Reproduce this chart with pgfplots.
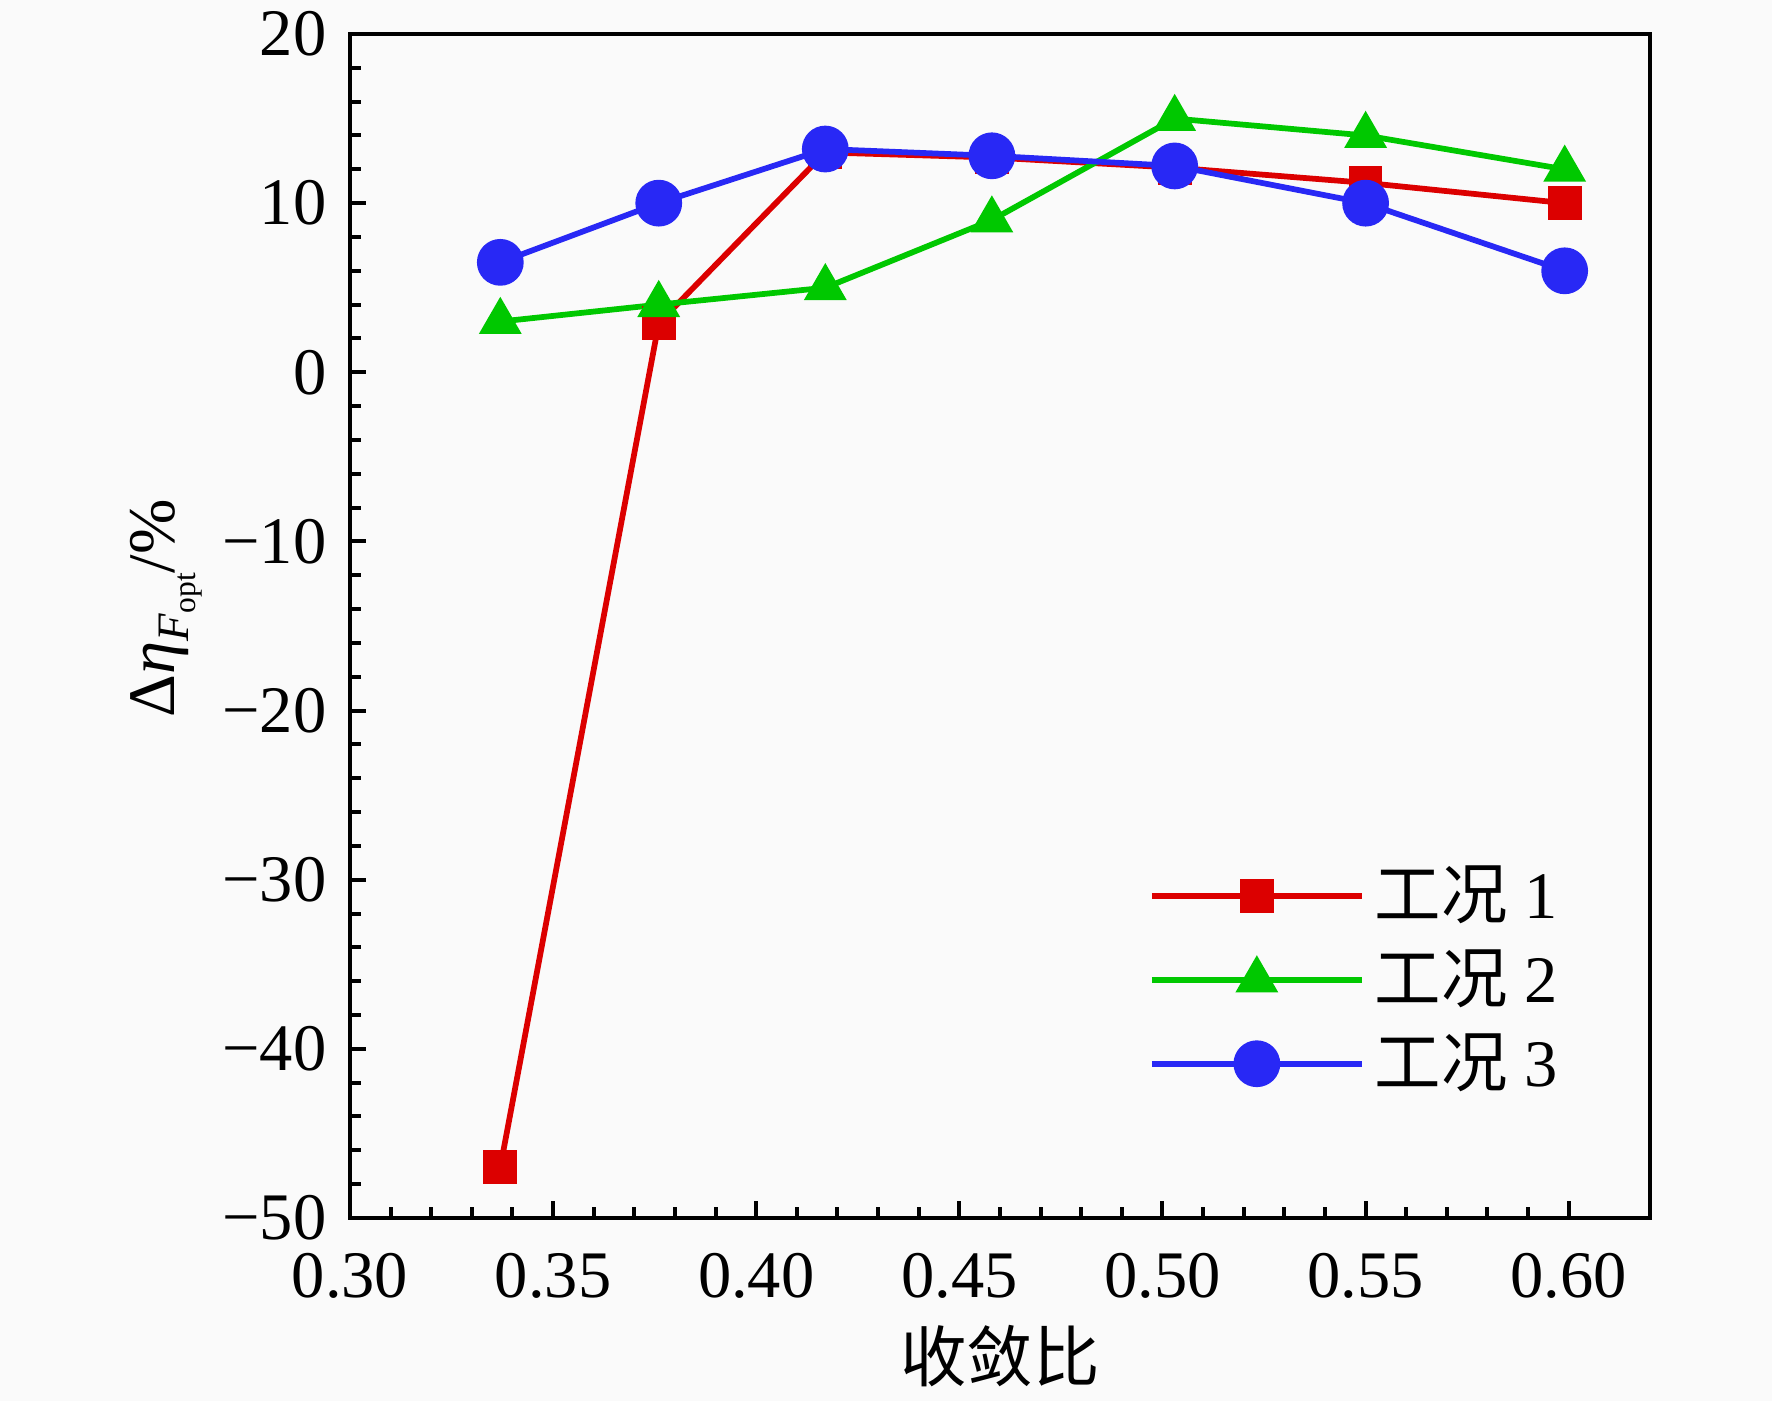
\documentclass[border=0pt]{standalone}
\usepackage{pgfplots}
\pgfplotsset{compat=1.18}
\usepackage{fontspec}
\setmainfont{Liberation Serif}
\newfontfamily\cjk{Noto Sans CJK SC}
\definecolor{c1}{RGB}{220,0,0}
\definecolor{c2}{RGB}{0,200,0}
\definecolor{c3}{RGB}{40,40,245}
\definecolor{bgc}{RGB}{250,250,250}
\begin{document}
\begin{tikzpicture}
\useasboundingbox[fill=bgc] (0,0) rectangle (354.4pt,280.2pt);
\begin{axis}[
  at={(70pt,36.6pt)}, anchor=south west,
  scale only axis, width=260pt, height=236.8pt,
  xmin=0.30, xmax=0.62, ymin=-50, ymax=20,
  xtick={0.30,0.35,0.40,0.45,0.50,0.55,0.60},
  xticklabels={0.30,0.35,0.40,0.45,0.50,0.55,0.60},
  ytick={-50,-40,-30,-20,-10,0,10,20},
  yticklabels={−50,−40,−30,−20,−10,0,10,20},
  minor x tick num=4, minor y tick num=4,
  tick align=inside, tick pos=left,
  major tick length=3.3pt, minor tick length=2.2pt,
  axis line style={line width=0.9pt},
  every tick/.append style={black, line width=0.8pt},
  font=\fontsize{13.3}{16}\selectfont,
  xticklabel style={yshift=-3.6pt},
  yticklabel style={xshift=-1.2pt},
  xlabel={{\cjk 收敛比}},
  xlabel style={at={(axis description cs:0.5,0)}, anchor=center, yshift=-27.6pt},
  ylabel={Δ\textit{η}\raisebox{-0.45ex}{\fontsize{9}{10}\selectfont\textit{F}\raisebox{-0.35ex}{\fontsize{6.3}{7}\selectfont opt}}/\%},
  ylabel style={at={(axis description cs:-0.1415,0.515)}, anchor=center},
  legend style={draw=none, fill=none, at={(rel axis cs:0.6023,0.201)}, anchor=west,
    row sep=0.7pt, column sep=0pt},
  legend cell align=left,
  legend image code/.code={\draw[mark repeat=2,mark phase=2] plot coordinates {(0pt,0pt) (21pt,0pt) (42pt,0pt)};},
]
\addplot[c1, line width=1.15pt, mark=square*, mark size=2.8pt, mark options={solid}] coordinates {
(0.337,-47.0) (0.376,2.9) (0.417,13.0) (0.458,12.7) (0.503,12.1) (0.550,11.2) (0.599,10.0)};
\addlegendentry{{\cjk 工况} 1}
\addplot[c2, line width=1.15pt, mark=triangle*, mark size=3.8pt, mark options={solid}] coordinates {
(0.337,3.0) (0.376,4.0) (0.417,5.0) (0.458,9.0) (0.503,15.0) (0.550,14.0) (0.599,12.0)};
\addlegendentry{{\cjk 工况} 2}
\addplot[c3, line width=1.15pt, mark=*, mark size=4.1pt, mark options={solid}] coordinates {
(0.337,6.5) (0.376,10.0) (0.417,13.2) (0.458,12.8) (0.503,12.2) (0.550,10.0) (0.599,6.0)};
\addlegendentry{{\cjk 工况} 3}
\end{axis}
\end{tikzpicture}
\end{document}
